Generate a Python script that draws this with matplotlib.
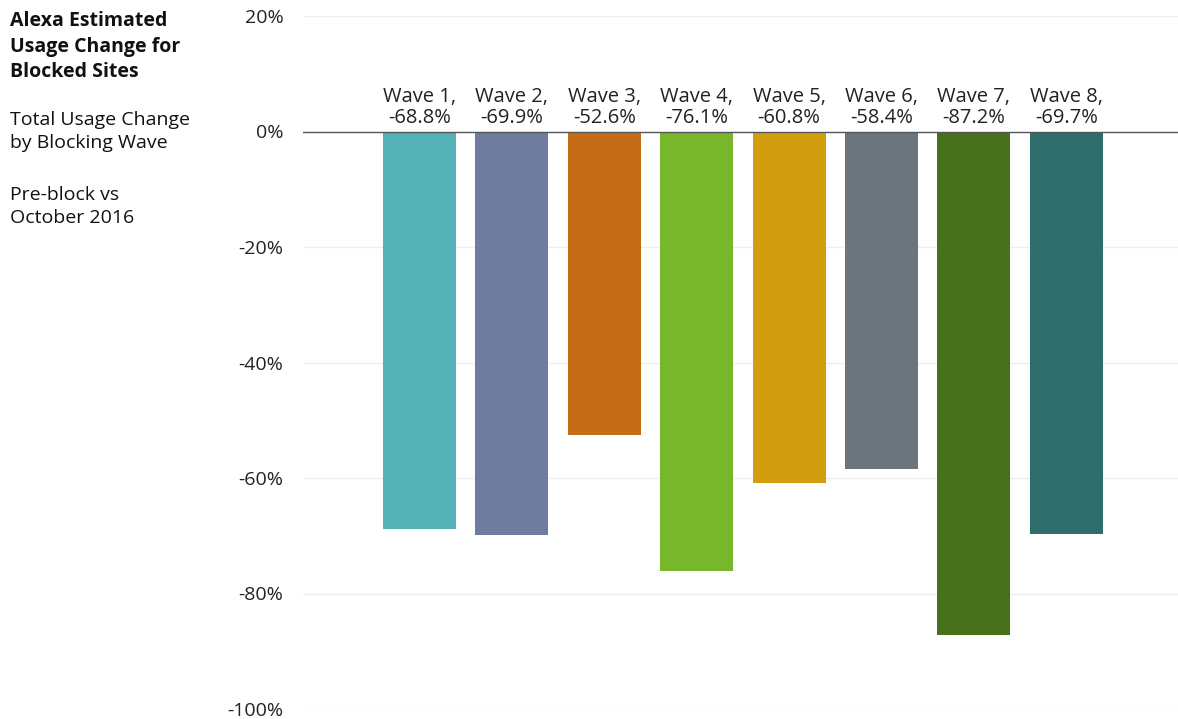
import matplotlib
matplotlib.use("Agg")
import matplotlib.pyplot as plt

waves = ["Wave 1", "Wave 2", "Wave 3", "Wave 4", "Wave 5", "Wave 6", "Wave 7", "Wave 8"]
values = [-68.8, -69.9, -52.6, -76.1, -60.8, -58.4, -87.2, -69.7]
colors = ["#54B2B6", "#707BA0", "#C46C16", "#78B72C", "#D29E10", "#6C757C", "#46701A", "#2F6D6C"]
yticks = [20, 0, -20, -40, -60, -80, -100]

plt.rcParams['font.family'] = ['Open Sans', 'DejaVu Sans']

fig = plt.figure(figsize=(11.78, 7.19), dpi=100)
ax = fig.add_axes([303/1178, 1 - 709/719, 1 - 303/1178, (709 - 16)/719])

x = list(range(len(waves)))
ax.bar(x, values, width=0.79, color=colors, zorder=2)
ax.set_xlim(-1.26, 8.21)
ax.set_ylim(-100, 20)
ax.set_yticks(yticks)
ax.set_yticklabels([f"{v}%" for v in yticks], fontsize=14, color="#222222")
ax.tick_params(axis='y', length=0, pad=14)
ax.set_xticks([])
for s in ax.spines.values():
    s.set_visible(False)
for v in yticks:
    if v != 0:
        ax.axhline(v, color="#eeeeee", lw=1, zorder=0)
ax.axhline(0, color="#555555", lw=1, zorder=3)

for xi, w, v in zip(x, waves, values):
    ax.text(xi, 0.6, f"{w},\n{v}%", ha="center", va="bottom", fontsize=14.5,
            color="#222222", linespacing=1.1)

fig.text(10/1178, 1 - 11/719, "Alexa Estimated\nUsage Change for\nBlocked Sites",
         ha="left", va="top", fontsize=14, fontweight="bold", color="#111111", linespacing=1.38)
fig.text(10/1178, 1 - 111/719, "Total Usage Change\nby Blocking Wave",
         ha="left", va="top", fontsize=14, color="#111111", linespacing=1.38)
fig.text(10/1178, 1 - 186/719, "Pre-block vs\nOctober 2016",
         ha="left", va="top", fontsize=14, color="#111111", linespacing=1.38)

fig.savefig("out.png", dpi=100)
